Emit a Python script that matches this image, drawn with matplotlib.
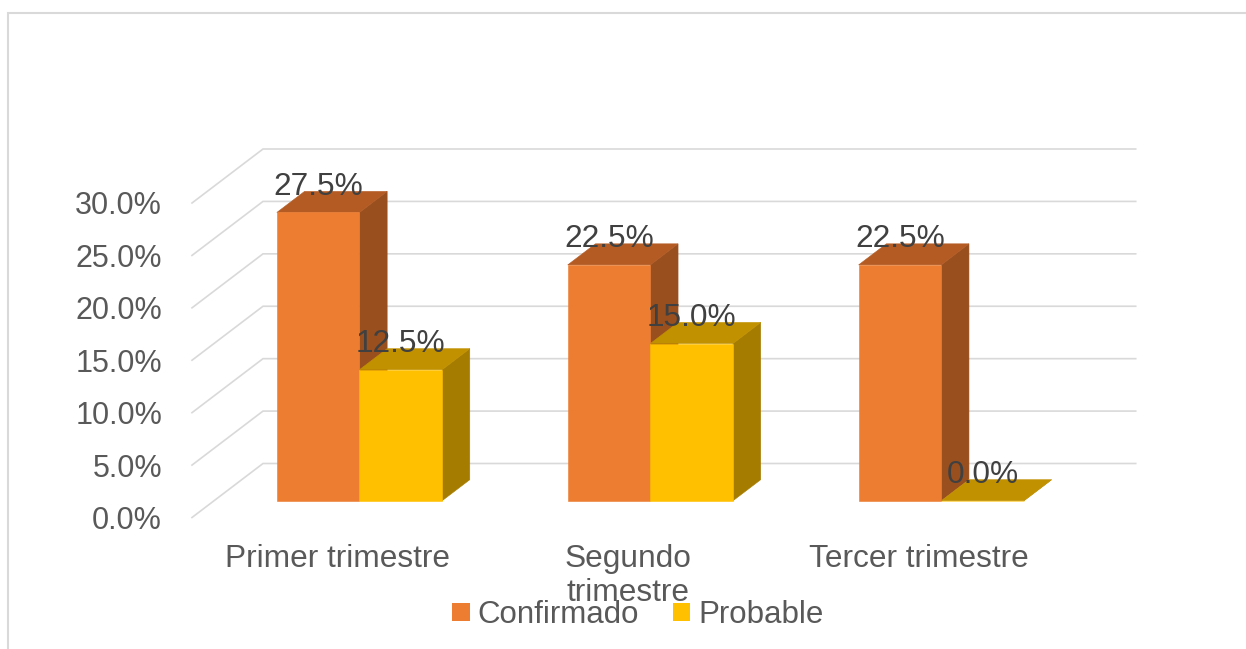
import matplotlib
matplotlib.use("Agg")
import matplotlib.pyplot as plt
from matplotlib.patches import Polygon, Rectangle, Patch
from matplotlib.lines import Line2D
from matplotlib.transforms import IdentityTransform

plt.rcParams["font.family"] = ["Liberation Sans", "DejaVu Sans"]

# ---- data -------------------------------------------------------------
categories = ["Primer trimestre", "Segundo\ntrimestre", "Tercer trimestre"]
series_names = ["Confirmado", "Probable"]
confirmado = [27.5, 22.5, 22.5]
probable = [12.5, 15.0, 0.0]
y_ticks = [0, 5, 10, 15, 20, 25, 30]
y_tick_labels = ["0.0%", "5.0%", "10.0%", "15.0%", "20.0%", "25.0%", "30.0%"]

# ---- style ------------------------------------------------------------
# (front, top, side) shades for each series
shades = {
    "Confirmado": ("#ED7D31", "#B45B24", "#994F1E"),
    "Probable": ("#FFC000", "#C29100", "#A67C00"),
}
GRID = "#D9D9D9"
TICK_COLOR = "#595959"
LABEL_COLOR = "#404040"

W, H, DPI = 1246, 649, 100
fig = plt.figure(figsize=(W / DPI, H / DPI), dpi=DPI)
fig.patch.set_facecolor("white")

# front plane of the 3-D box
ax = fig.add_axes([192 / W, 1 - 517.5 / H, (1064.7 - 192) / W, (517.5 - 203) / H])
ax.set_xlim(-0.5, 2.5)
ax.set_ylim(0, 30)
ax.set_autoscale_on(False)
ax.patch.set_visible(False)
for s in ax.spines.values():
    s.set_visible(False)

DEPTH = (71.0, 54.0)     # pixel shift from front plane to back wall
BAR_D0, BAR_D1 = 0.31, 0.70
BAR_W = 0.284
IDT = IdentityTransform()


def proj(x, y, d):
    px, py = ax.transData.transform((x, y))
    return (px + DEPTH[0] * d, py + DEPTH[1] * d)


# wall gridlines: left wall diagonal + back wall horizontal
for t in y_ticks:
    pts = [proj(-0.5, t, 0), proj(-0.5, t, 1), proj(2.5, t, 1)]
    ax.add_line(Line2D([p[0] for p in pts], [p[1] for p in pts], transform=IDT,
                       color=GRID, lw=1.2, clip_on=False, zorder=1,
                       solid_joinstyle="miter"))


def box(x0, x1, val, cols):
    front_c, top_c, side_c = cols
    faces = [
        ([proj(x1, 0, BAR_D0), proj(x1, 0, BAR_D1), proj(x1, val, BAR_D1), proj(x1, val, BAR_D0)], side_c),
        ([proj(x0, val, BAR_D0), proj(x1, val, BAR_D0), proj(x1, val, BAR_D1), proj(x0, val, BAR_D1)], top_c),
        ([proj(x0, 0, BAR_D0), proj(x1, 0, BAR_D0), proj(x1, val, BAR_D0), proj(x0, val, BAR_D0)], front_c),
    ]
    for verts, c in faces:
        ax.add_patch(Polygon(verts, closed=True, transform=IDT, facecolor=c,
                             edgecolor=c, lw=0.4, clip_on=False, zorder=3))


for i, (c_val, p_val) in enumerate(zip(confirmado, probable)):
    for j, (name, val) in enumerate(zip(series_names, (c_val, p_val))):
        x0 = i - BAR_W + j * BAR_W
        x1 = x0 + BAR_W
        box(x0, x1, val, shades[name])
        lx, ly = proj((x0 + x1) / 2, val, BAR_D0)
        ax.text(lx, ly + 17.7, f"{val:.1f}%", transform=IDT, ha="center",
                va="baseline", fontsize=22.8, color=LABEL_COLOR, zorder=5)

# axis labels
ax.set_yticks(y_ticks, y_tick_labels)
ax.tick_params(axis="y", length=0, pad=21.6, labelsize=22, labelcolor=TICK_COLOR)
ax.set_xticks(range(len(categories)), categories)
ax.tick_params(axis="x", length=0, pad=19, labelsize=22.8, labelcolor=TICK_COLOR)
for lbl in ax.get_xticklabels():
    lbl.set_linespacing(1.2)

# legend
handles = [Patch(facecolor=shades[n][0], edgecolor="none") for n in series_names]
leg = fig.legend(handles, series_names, loc="center", bbox_to_anchor=(638 / W, 1 - 615 / H),
                 ncol=2, frameon=False, fontsize=22.5, handlelength=0.55, handleheight=0.55,
                 handletextpad=0.25, columnspacing=1.1, borderaxespad=0, borderpad=0)
for t in leg.get_texts():
    t.set_color(TICK_COLOR)

# chart area outline
fig.add_artist(Rectangle((8 / W, -0.1), 1.2, 1.1 - 13 / H, transform=fig.transFigure,
                         facecolor="none", edgecolor=GRID, lw=1.5, clip_on=False))

fig.savefig("out.png", dpi=DPI)
